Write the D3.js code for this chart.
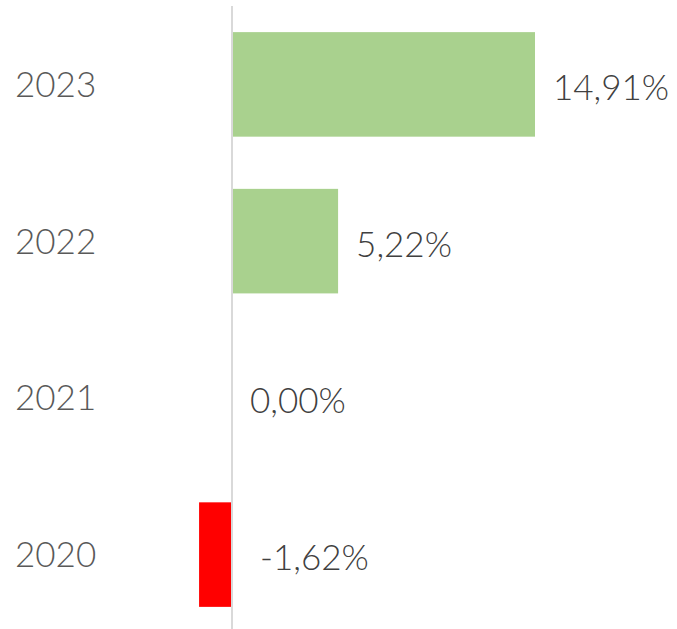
<!DOCTYPE html>
<html>
<head>
<meta charset="utf-8">
<script src="https://cdn.jsdelivr.net/npm/d3@7"></script>
<style>
  html, body { margin: 0; padding: 0; background: #fff; }
</style>
</head>
<body>
<div id="chart"></div>
<script>
// data
var years = ["2023", "2022", "2021", "2020"];
var values = [14.91, 5.22, 0.00, -1.62];
var labels = ["14,91%", "5,22%", "0,00%", "-1,62%"];

window.onload = () => {
  var width = 677, height = 629;

  var svg = d3.select("#chart")
    .append("svg")
      .attr("width", width)
      .attr("height", height);

  var rows = years.map((y, i) => ({year: y, value: values[i], label: labels[i]}));

  // x scale (percent -> px)
  var x = d3.scaleLinear()
    .domain([0, 14.91])
    .range([232, 535]);

  // y scale
  var y = d3.scaleBand()
    .domain(years)
    .range([6, 633])
    .paddingInner(0.333)
    .paddingOuter(0.1667);

  // bars
  svg.append("g")
    .selectAll("rect")
    .data(rows)
    .join("rect")
      .attr("x", d => x(Math.min(0, d.value)))
      .attr("y", d => y(d.year))
      .attr("width", d => Math.abs(x(d.value) - x(0)))
      .attr("height", y.bandwidth())
      .style("fill", d => d.value < 0 ? "#ff0000" : "#a9d18e");

  // zero line
  svg.append("line")
    .attr("x1", x(0)).attr("x2", x(0))
    .attr("y1", 6).attr("y2", height)
    .style("stroke", "#d9d9d9")
    .style("stroke-width", 2);

  // year labels
  svg.append("g")
    .selectAll("text")
    .data(rows)
    .join("text")
      .attr("x", 15)
      .attr("y", d => y(d.year) + y.bandwidth() / 2)
      .attr("dy", "0.36em")
      .style("font-family", "Lato")
      .style("font-weight", 300)
      .style("font-size", "35px")
      .style("fill", "#595959")
      .text(d => d.year);

  // value labels
  svg.append("g")
    .selectAll("text")
    .data(rows)
    .join("text")
      .attr("x", d => d.value < 0 ? x(0) + 28 : x(d.value) + 18)
      .attr("y", d => y(d.year) + y.bandwidth() / 2)
      .attr("dy", "0.44em")
      .style("font-family", "Lato")
      .style("font-weight", 300)
      .style("font-size", "35px")
      .style("fill", "#404040")
      .text(d => d.label);
};
</script>
</body>
</html>
